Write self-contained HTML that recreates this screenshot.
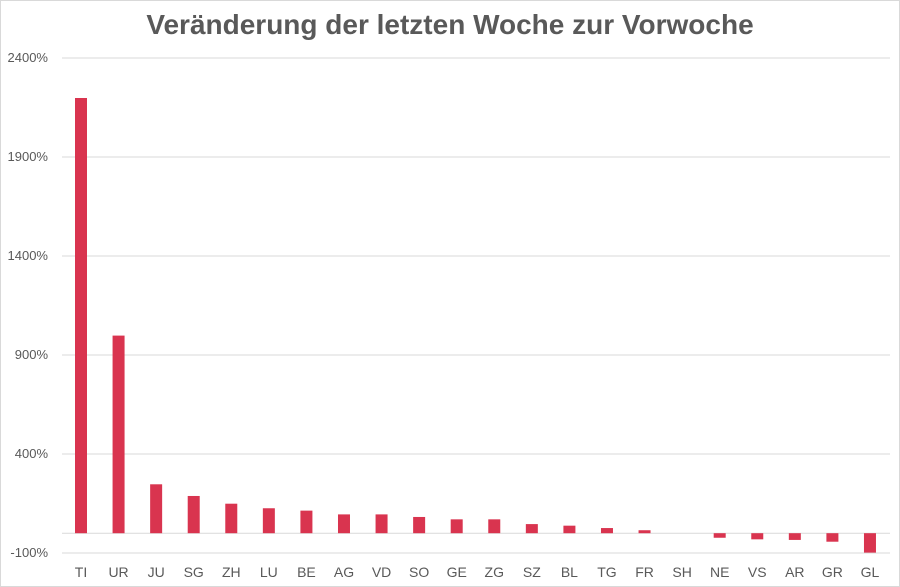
<!DOCTYPE html>
<html><head><meta charset="utf-8"><style>
body{margin:0;background:#fff;}
svg{display:block;font-family:"Liberation Sans",sans-serif;}
</style></head><body>
<svg id="chart" width="900" height="587">
<rect x="0.5" y="0.5" width="899" height="586" fill="#fff" stroke="#d9d9d9"/>
<text x="450" y="34" text-anchor="middle" font-size="28" font-weight="bold" fill="#595959">Veränderung der letzten Woche zur Vorwoche</text>
<g id="grid"></g><g id="bars"></g><g id="labels"></g>
</svg>
<script>
const categories=["TI","UR","JU","SG","ZH","LU","BE","AG","VD","SO","GE","ZG","SZ","BL","TG","FR","SH","NE","VS","AR","GR","GL"];
const values=[2198,998,247,188,149,126,114,95,95,82,70,70,46,38,26,15,0,-23,-31,-34,-43,-98];
const ticks=[-100,400,900,1400,1900,2400];
const ns="http://www.w3.org/2000/svg";
const y=v=>553-(v+100)*99/500;
const x=i=>81+i*37.57;
function mk(t,a,p){const e=document.createElementNS(ns,t);for(const k in a)e.setAttribute(k,a[k]);p.appendChild(e);return e;}
const grid=document.getElementById('grid'),bars=document.getElementById('bars'),labels=document.getElementById('labels');
ticks.forEach(t=>{
 const l=mk('line',{x1:62,x2:890,y1:y(t),y2:y(t),stroke:'#d9d9d9','stroke-width':1},grid);
 
 
 const tx=mk('text',{x:48,y:y(t)+4,'text-anchor':'end','font-size':13,fill:'#595959'},grid);
 tx.textContent=t+'%';
 
 
});
const z=mk('line',{x1:62,x2:890,y1:y(0),y2:y(0),stroke:'#d9d9d9','stroke-width':1},grid);


categories.forEach((c,i)=>{
 const v=values[i],top=Math.min(y(v),y(0)),h=Math.abs(y(v)-y(0));
 const r=mk('rect',{x:x(i)-6,y:top,width:12,height:h,fill:'#d9344f'},bars);
 
 
 const t=mk('text',{x:x(i),y:577,'text-anchor':'middle','font-size':14,fill:'#595959'},labels);
 t.textContent=c;
 
 
});
</script>
</body></html>
